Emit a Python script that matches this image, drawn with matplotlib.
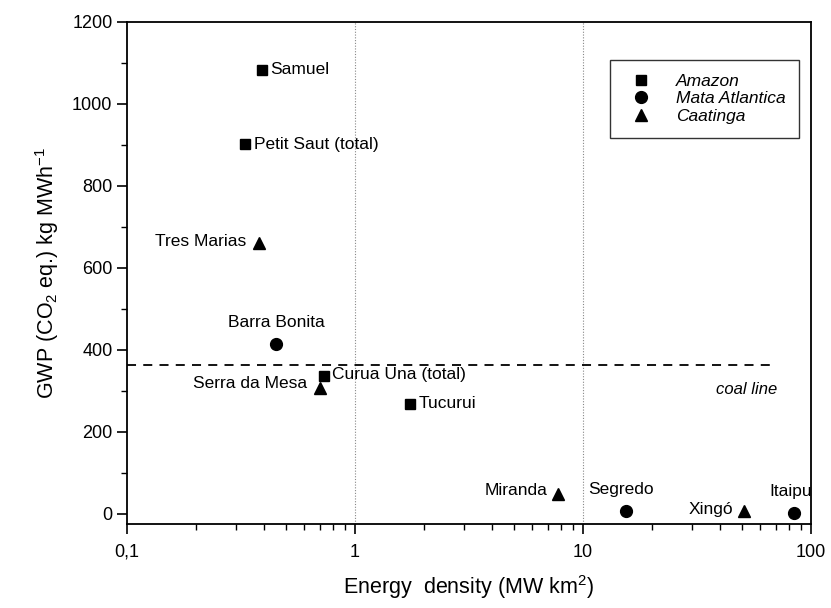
import matplotlib
matplotlib.use("Agg")
import matplotlib.pyplot as plt
from matplotlib.ticker import FixedLocator, MultipleLocator, LogLocator, NullFormatter

plt.rcParams['font.family'] = ['Liberation Sans', 'DejaVu Sans']
plt.rcParams['mathtext.fontset'] = 'custom'
plt.rcParams['mathtext.rm'] = 'Liberation Sans'
plt.rcParams['mathtext.it'] = 'Liberation Sans:italic'

# Data
amazon_names = ["Samuel", "Petit Saut (total)", "Curua Una (total)", "Tucurui"]
amazon_x = [0.39, 0.33, 0.73, 1.74]
amazon_y = [1083, 902, 337, 268]

mata_names = ["Barra Bonita", "Segredo", "Itaipu"]
mata_x = [0.45, 15.5, 84.0]
mata_y = [415, 6, 1]

caat_names = ["Tres Marias", "Serra da Mesa", "Miranda", "Xingó"]
caat_x = [0.38, 0.70, 7.8, 51.0]
caat_y = [661, 308, 49, 8]

coal_value = 362
coal_x = [0.1, 71]

# label placement: (dx, dy) in points, ha
label_opts = {
    "Samuel": (6, 0, 'left'),
    "Petit Saut (total)": (6, 0, 'left'),
    "Curua Una (total)": (6, 1, 'left'),
    "Tucurui": (6, 0, 'left'),
    "Barra Bonita": (0, 15, 'center'),
    "Segredo": (-4, 16, 'center'),
    "Itaipu": (-2, 16, 'center'),
    "Tres Marias": (-9, 1, 'right'),
    "Serra da Mesa": (-9, 3, 'right'),
    "Miranda": (-8, 2, 'right'),
    "Xingó": (-8, 1, 'right'),
}

LBL = 12.5

fig = plt.figure(figsize=(8.31, 6.08), dpi=100)
ax = fig.add_axes([0.1528, 0.138, 0.8232, 0.826])

ax.set_xscale('log')
ax.set_xlim(0.1, 100)
ax.set_ylim(-25, 1200)

ax.axvline(1, color='#888888', linestyle=(0, (1, 1.5)), linewidth=0.8, zorder=0)
ax.axvline(10, color='#888888', linestyle=(0, (1, 1.5)), linewidth=0.8, zorder=0)

ax.plot(coal_x, [coal_value, coal_value], color='black', linestyle=(0, (5, 4)), linewidth=1.3)
ax.annotate("coal line", xy=(coal_x[1], coal_value), xytext=(0, -17),
            textcoords='offset points', ha='right', va='center',
            fontsize=12, style='italic')

ax.plot(amazon_x, amazon_y, 's', color='black', markersize=7, label='Amazon', linestyle='none')
ax.plot(mata_x, mata_y, 'o', color='black', markersize=8.5, label='Mata Atlantica', linestyle='none')
ax.plot(caat_x, caat_y, '^', color='black', markersize=8.5, label='Caatinga', linestyle='none')

for names, xs, ys in [(amazon_names, amazon_x, amazon_y),
                      (mata_names, mata_x, mata_y),
                      (caat_names, caat_x, caat_y)]:
    for n, x, y in zip(names, xs, ys):
        dx, dy, ha = label_opts[n]
        ax.annotate(n, xy=(x, y), xytext=(dx, dy), textcoords='offset points',
                    ha=ha, va='center', fontsize=LBL)

leg = ax.legend(loc='upper right', bbox_to_anchor=(0.983, 0.925), fontsize=12.5,
                frameon=True, fancybox=False, edgecolor='black', borderpad=0.8,
                handletextpad=1.0, labelspacing=0.15, borderaxespad=0)
leg.get_frame().set_linewidth(1.0)
for t in leg.get_texts():
    t.set_fontstyle('italic')

ax.xaxis.set_major_locator(FixedLocator([0.1, 1, 10, 100]))
ax.set_xticklabels(["0,1", "1", "10", "100"])
ax.xaxis.set_minor_locator(LogLocator(base=10, subs=range(2, 10)))
ax.xaxis.set_minor_formatter(NullFormatter())
ax.yaxis.set_major_locator(FixedLocator([0, 200, 400, 600, 800, 1000, 1200]))
ax.yaxis.set_minor_locator(MultipleLocator(100))

ax.tick_params(axis='both', which='major', direction='out', length=7, width=1.2, labelsize=13)
ax.tick_params(axis='both', which='minor', direction='out', length=4, width=1.0)
ax.tick_params(axis='x', which='major', pad=7)

for s in ax.spines.values():
    s.set_linewidth(1.3)

ax.set_xlabel("Energy  density (MW km$^2$)", fontsize=15.5, labelpad=9)
ax.set_ylabel("GWP (CO$_2$ eq.) kg MWh$^{-1}$", fontsize=15.5, labelpad=8)

fig.savefig("out.png", dpi=100)
